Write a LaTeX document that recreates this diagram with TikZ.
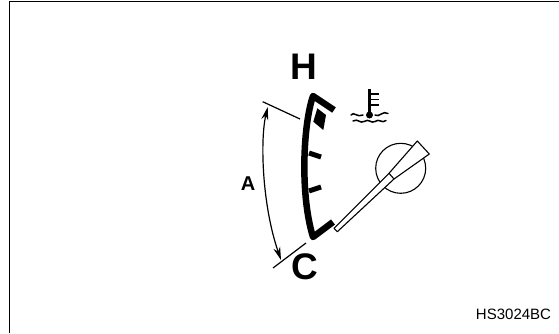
\documentclass[tikz,border=0pt]{standalone}
\usepackage{fontspec}
\setmainfont{Liberation Sans}
\usetikzlibrary{arrows.meta}
\tikzset{
  gaugeline/.style={line width=6.5pt,line join=round,line cap=butt},
  gaugetick/.style={line width=5pt},
  thinline/.style={line width=1.2pt},
  dimarrow/.style={line width=1.2pt,{Stealth[length=13pt,width=7pt]}-{Stealth[length=13pt,width=7pt]}},
  wave/.style={line width=1.5pt,line cap=round},
  biglabel/.style={font=\fontsize{37}{37}\selectfont\bfseries,inner sep=0pt},
}
\begin{document}
\begin{tikzpicture}[x=1pt,y=-1pt]
\useasboundingbox (0,0) rectangle (559,333);
\fill[white] (0,0) rectangle (559,333);
% frame (open at right and bottom)
\draw[line width=1.6pt] (9.5,333) -- (9.5,1.5) -- (559,1.5);
% gauge arc
\draw[gaugeline] (334,110) -- (313,96) .. controls (303,125) and (300,195) .. (313,237) -- (333,222);
\fill (313.3,121.7) -- (317.3,108.3) -- (326,115) -- (323.3,130) -- cycle;
\draw[gaugetick] (309,153) -- (321,157);
\draw[gaugetick] (309,191) -- (321,187);
% dimension
\draw[thinline] (262.7,101.7) -- (300,119);
\draw[thinline] (273,268) -- (306,243);
\draw[dimarrow] (267.7,107) .. controls (260,140) and (262,205) .. (281,260);
% knob and needle
\draw[line width=1.1pt] (400.7,168.3) circle (25);
\draw[line width=1.1pt,fill=white,line join=round] (334,228.3) -- (389,173.3) -- (417.3,141) -- (429.3,154) -- (394,179) -- (337.3,231.7) -- cycle;
\draw[line width=1.1pt] (389,173.3) -- (394,179);
% thermometer symbol
\draw[line width=3.5pt] (369.5,89) -- (369.5,113);
\fill (369.5,115) circle (3.5);
\draw[line width=1.8pt] (369.5,94) -- (379,94) (369.5,99.5) -- (379,99.5) (369.5,105) -- (379,105);
\draw[wave] (351,115) .. controls (354,111) and (357,118) .. (363,115);
\draw[wave] (375,115) .. controls (379,118) and (383,110) .. (388,113.5);
\draw[wave] (353,121) .. controls (358,118) and (360,124) .. (364,121.5) .. controls (369,118) and (371,124) .. (375,121.5) .. controls (379,118) and (382,124) .. (386,120.5);
% labels
\node[biglabel] (h) at (304,67) {H};
\node[biglabel] (c) at (305,267) {C};
\node[font=\fontsize{20}{20}\selectfont\bfseries,inner sep=0pt] (a) at (248,184) {A};
\node[font=\fontsize{15}{15}\selectfont,inner sep=0pt,anchor=base] (code) at (513.5,319) {HS3024BC};
\end{tikzpicture}
\end{document}
